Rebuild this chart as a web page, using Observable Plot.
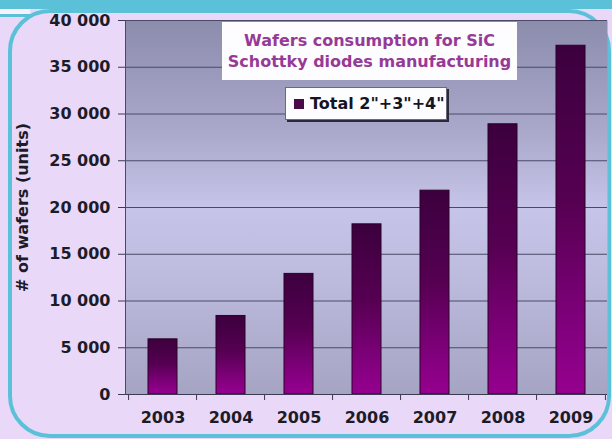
<!DOCTYPE html>
<html>
<head>
<meta charset="utf-8">
<script src="https://cdn.jsdelivr.net/npm/d3@7"></script>
<script src="https://cdn.jsdelivr.net/npm/@observablehq/plot@0.6"></script>
<style>
  html, body { margin: 0; padding: 0; background: #ead8f8; }
  #wrap { position: relative; width: 612px; height: 439px; overflow: hidden; background: #ead8f8; font-family: "DejaVu Sans", sans-serif; }
  .deco { position: absolute; box-sizing: border-box; }
  #chart { position: absolute; left: 0; top: 0; }
  #title { position: absolute; left: 222px; top: 22px; width: 295px; height: 58px; background: #fdfcff;
           color: #963a96; font-weight: bold; font-size: 16px; line-height: 21px; text-align: center; padding-top: 8px; box-sizing: border-box; }
  #legend { position: absolute; left: 285px; top: 87px; width: 162px; height: 33px; background: #fdfcff;
            border: 1px solid #6a6a7a; box-shadow: 2px 2px 0 #2a2a3a; box-sizing: border-box;
            font-weight: bold; font-size: 16px; color: #15151f; display: flex; align-items: center; padding-left: 8px; }
  #legend .sw { width: 10px; height: 10px; background: #4a0a4a; margin-right: 6px; }
</style>
</head>
<body>
<div id="wrap">
  <div class="deco" style="left:0;top:0;width:612px;height:9px;background:#5bc1d9;"></div>
  <div class="deco" style="left:0;top:9px;width:30px;height:5px;background:#f6f2fb;"></div>
  <div class="deco" style="left:0;top:14px;width:30px;height:3px;background:#5bc1d9;"></div>
  <div class="deco" style="left:8px;top:9px;width:603px;height:429px;border:4px solid #5bc1d9;border-radius:42px;background:#ead8f8;"></div>
  <div id="chart"></div>
  <div id="title">Wafers consumption for SiC<br>Schottky diodes manufacturing</div>
  <div id="legend"><span class="sw"></span>Total 2"+3"+4"</div>
</div>
<script>
const years = ["2003", "2004", "2005", "2006", "2007", "2008", "2009"];
const wafers = [5900, 8400, 12900, 18200, 21800, 28900, 37300];
const yTicks = [0, 5000, 10000, 15000, 20000, 25000, 30000, 35000, 40000];
const yLabel = "# of wafers (units)";

const data = years.map((year, i) => ({year, wafers: wafers[i]}));

const W = 612, H = 439, ML = 125, MR = 5, MT = 20, MB = 45;
const step = (W - ML - MR) / years.length;
const fmt = d => d3.format(",")(d).replace(/,/g, " ");

const chart = Plot.plot({
  width: W, height: H,
  marginLeft: ML, marginRight: MR, marginTop: MT, marginBottom: MB,
  style: {background: "transparent", fontFamily: "DejaVu Sans", fontWeight: "bold", fontSize: "16px", color: "#1c1c28", overflow: "visible"},
  x: {domain: years, paddingInner: 0.58, paddingOuter: 0.29, label: null},
  y: {domain: [0, 40000], label: null},
  marks: [
    Plot.frame({fill: "url(#plotBg)", stroke: null}),
    Plot.gridY(yTicks, {stroke: "#4a4a68", strokeOpacity: 1, strokeWidth: 1}),
    Plot.barY(data, {x: "year", y: "wafers", fill: "url(#barGrad)", stroke: "#2a0028", strokeWidth: 1}),
    Plot.ruleY([0], {stroke: "#3a3a50"}),
    Plot.ruleX(years, {x: d => d, dx: -step / 2, y1: 0, y2: 0, insetTop: 6, stroke: "#3a3a50"}),
    Plot.ruleX(years.slice(-1), {x: d => d, dx: step / 2, y1: 0, y2: 0, insetTop: 6, stroke: "#3a3a50"}),
    Plot.frame({anchor: "left", stroke: "#4a4a60"}),
    Plot.axisY(yTicks, {tickFormat: fmt, tickSize: 7, tickPadding: 8, stroke: "#3a3a50",
      label: yLabel, labelAnchor: "center", labelArrow: "none", labelOffset: 109}),
    Plot.axisX({tickSize: 0, tickPadding: 17, label: null})
  ]
});

const svg = d3.select(chart);
const defs = svg.insert("defs", ":first-child");
const bg = defs.append("linearGradient").attr("id", "plotBg").attr("x1", 0).attr("y1", 0).attr("x2", 0).attr("y2", 1);
[[0, "#8c8cad"], [0.3, "#aaa9cc"], [0.5, "#c6c4e8"], [0.7, "#bcbadd"], [1, "#a5a4c3"]].forEach(([o, c]) =>
  bg.append("stop").attr("offset", o).attr("stop-color", c));
const bar = defs.append("linearGradient").attr("id", "barGrad").attr("x1", 0).attr("y1", 0).attr("x2", 0).attr("y2", 1);
[[0, "#3c003e"], [0.45, "#560052"], [0.8, "#80007c"], [1, "#96008f"]].forEach(([o, c]) =>
  bar.append("stop").attr("offset", o).attr("stop-color", c));

document.getElementById("chart").appendChild(chart);
</script>
</body>
</html>
